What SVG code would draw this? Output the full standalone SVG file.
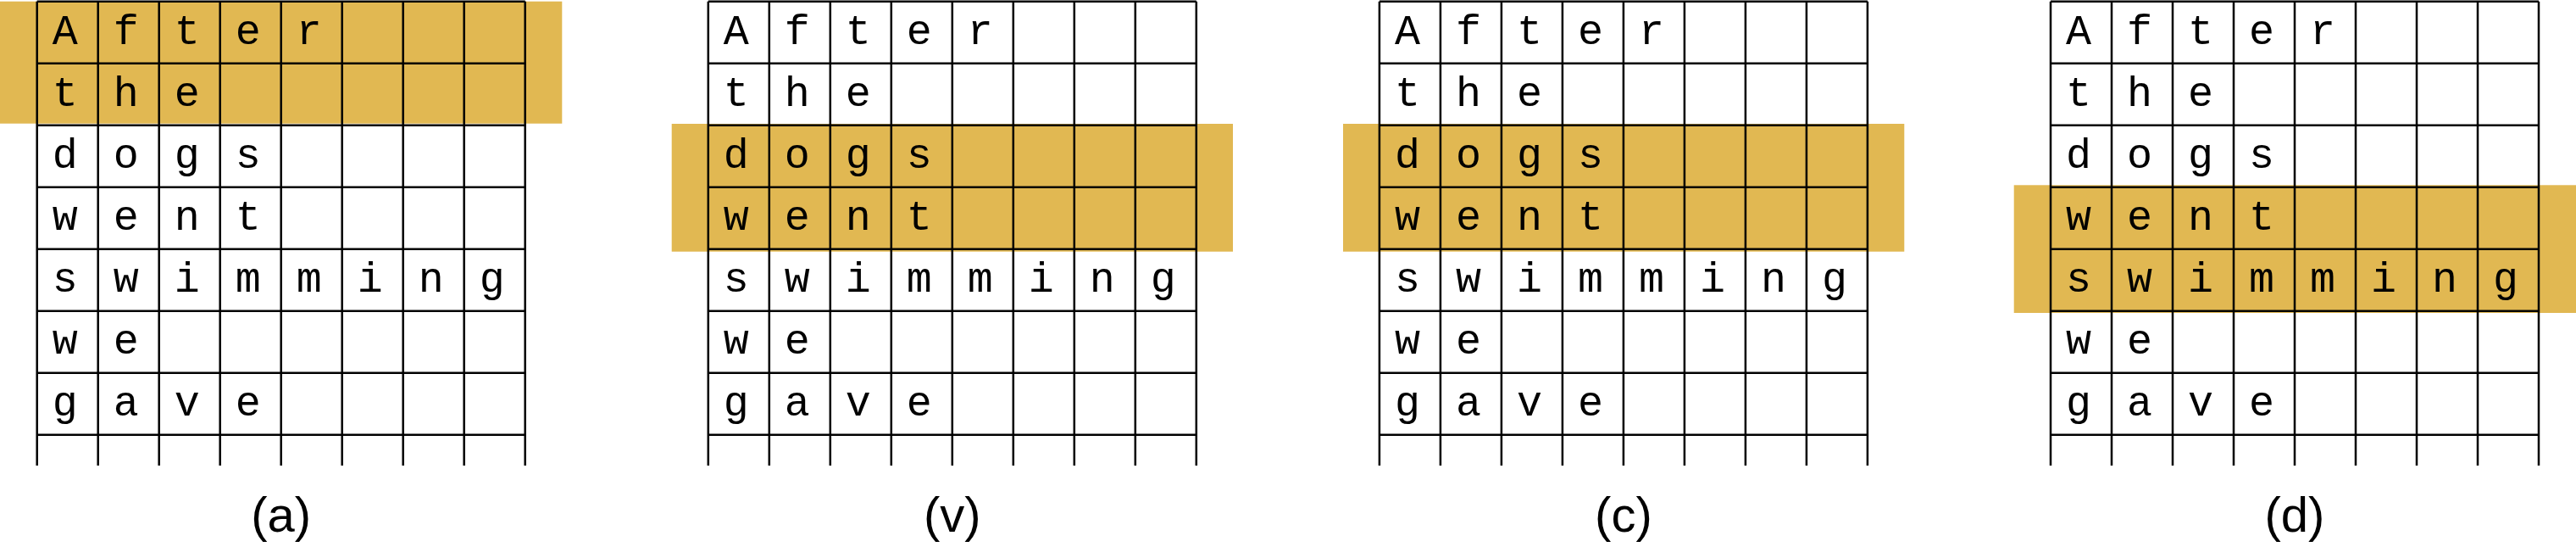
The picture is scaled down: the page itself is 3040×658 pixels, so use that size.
<svg xmlns="http://www.w3.org/2000/svg" xmlns:xlink="http://www.w3.org/1999/xlink" width="3040" height="658" viewBox="0 0 3040 658">
<style>
.hl{fill:#E1B852;}
.grid{fill:none;stroke:#000;stroke-width:2.5;}
.ch{font-family:"Liberation Mono","DejaVu Sans Mono",monospace;font-size:50px;fill:#000;text-anchor:middle;}
.lbl{font-family:"Liberation Sans",Arial,sans-serif;font-size:58px;fill:#000;text-anchor:middle;}
</style>
<defs>
<path id="gridpath" d="M0 0V547.3M72 0V547.3M144 0V547.3M216 0V547.3M288 0V547.3M360 0V547.3M432 0V547.3M504 0V547.3M576 0V547.3M0 0H576M0 73H576M0 146H576M0 219H576M0 292H576M0 365H576M0 438H576M0 511H576"/>
<g id="words">
<text class="ch" x="33 105 177 249 321" y="50">After</text>
<text class="ch" x="33 105 177" y="123">the</text>
<text class="ch" x="33 105 177 249" y="196">dogs</text>
<text class="ch" x="33 105 177 249" y="269">went</text>
<text class="ch" x="33 105 177 249 321 393 465 537" y="342">swimming</text>
<text class="ch" x="33 105" y="415">we</text>
<text class="ch" x="33 105 177 249" y="488">gave</text>
</g>
</defs>
<rect width="3040" height="658" fill="#fff"/>
<g id="panel-a" transform="translate(43.7,1.7)">
<rect class="hl" x="-43.7" y="0" width="663.3" height="144"/>
<use xlink:href="#gridpath" class="grid"/>
<use xlink:href="#words"/>
<text class="lbl" x="288" y="625.3">(a)</text>
</g>
<g id="panel-v" transform="translate(835.8,1.7)">
<rect class="hl" x="-43.1" y="144.3" width="662.3" height="150.7"/>
<use xlink:href="#gridpath" class="grid"/>
<use xlink:href="#words"/>
<text class="lbl" x="288" y="625.3">(v)</text>
</g>
<g id="panel-c" transform="translate(1627.9,1.7)">
<rect class="hl" x="-42.9" y="144.3" width="662.3" height="150.7"/>
<use xlink:href="#gridpath" class="grid"/>
<use xlink:href="#words"/>
<text class="lbl" x="288" y="625.3">(c)</text>
</g>
<g id="panel-d" transform="translate(2420,1.7)">
<rect class="hl" x="-43.3" y="216.6" width="663.3" height="150.7"/>
<use xlink:href="#gridpath" class="grid"/>
<use xlink:href="#words"/>
<text class="lbl" x="288" y="625.3">(d)</text>
</g>
</svg>
